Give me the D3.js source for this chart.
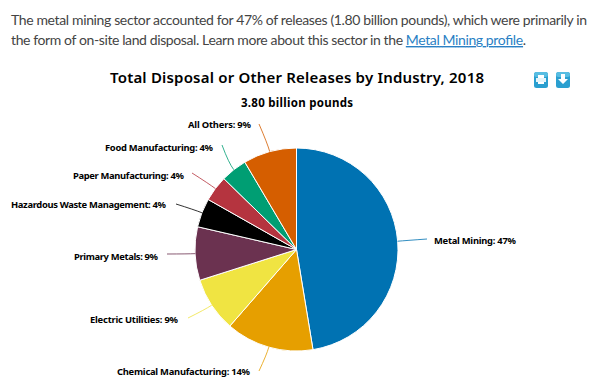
<!DOCTYPE html>
<html><head><meta charset="utf-8">
<script src="https://cdnjs.cloudflare.com/ajax/libs/d3/7.8.5/d3.min.js"></script>
<style>
html,body{margin:0;padding:0;background:#fff;overflow:hidden}
svg{display:block}
</style></head><body>
<svg id="c" width="600" height="380"></svg>
<script>
const categories=["Metal Mining","Chemical Manufacturing","Electric Utilities","Primary Metals","Hazardous Waste Management","Paper Manufacturing","Food Manufacturing","All Others"];
const shares=[47.4,14.0,8.7,8.5,4.6,4.1,4.2,8.5];
const shownPercent=[47,14,9,9,4,4,4,9];
const colors=["#0072b2","#e69f00","#f0e442","#6b3250","#000000","#b5343f","#009e73","#d55e00"];
const paragraph=["The metal mining sector accounted for 47% of releases (1.80 billion pounds), which were primarily in","the form of on-site land disposal. Learn more about this sector in the "];
const linkText="Metal Mining profile";
const titleText="Total Disposal or Other Releases by Industry, 2018";
const subtitleText="3.80 billion pounds";

const svg=d3.select("#c");
const cx=296.5,cy=249.5,R=101.5;
const bodyFont="Lato,sans-serif", chartFont="'Noto Sans',sans-serif";

const p=svg.append("g").attr("font-family",bodyFont).attr("font-size",14).attr("fill","#444");
p.append("text").attr("x",11).attr("y",25).attr("textLength",576).attr("lengthAdjust","spacing").text(paragraph[0]);
const l2=p.append("text").attr("x",11).attr("y",45).attr("textLength",515).attr("lengthAdjust","spacing").attr("xml:space","preserve").style("white-space","pre");
l2.append("tspan").text(paragraph[1]);
l2.append("tspan").attr("fill","#2a7fc4").attr("text-decoration","underline").text(linkText);
l2.append("tspan").text(".");

svg.append("text").attr("x",110).attr("y",83).attr("textLength",374).attr("lengthAdjust","spacing").attr("font-family",chartFont).attr("font-size",15).attr("font-weight",600).attr("fill","#000").text(titleText);
svg.append("text").attr("x",241).attr("y",107).attr("textLength",112).attr("lengthAdjust","spacing").attr("font-family",chartFont).attr("font-size",11.5).attr("font-weight",700).attr("fill","#000").text(subtitleText);

[534,556].forEach((x,i)=>{
  svg.append("rect").attr("x",x).attr("y",72).attr("width",14).attr("height",16).attr("rx",2.5).attr("fill","#2a9fd0");
  svg.append("rect").attr("x",x).attr("y",72).attr("width",14).attr("height",5).attr("rx",2.5).attr("fill","#58bde2");
  if(i==0){
    svg.append("rect").attr("x",x+4).attr("y",75).attr("width",6).attr("height",9).attr("fill","#fff");
    svg.append("rect").attr("x",x+2).attr("y",78).attr("width",10).attr("height",4).attr("fill","#e4f4fa");
  } else {
    svg.append("path").attr("d",`M${x+5} 74h4v5h3l-5 5l-5-5h3z`).attr("fill","#fff");
  }
});

const pie=d3.pie().sort(null).value(d=>d)(shares);
const arc=d3.arc().innerRadius(0).outerRadius(R);
const g=svg.append("g").attr("transform",`translate(${cx},${cy})`);
g.selectAll("path").data(pie).join("path").attr("d",arc).attr("fill",(d,i)=>colors[i]).attr("stroke","#fff").attr("stroke-width",1).attr("stroke-linejoin","round");

const labelX=[434,250,178,158,166,184,213,251];
const labelY=[244,375,323,260,208,179,151,128];
const labelW=[82,133,88,84,155,111,108,63];
const anchors=["start","end","end","end","end","end","end","end"];
const lineEndX=[427,259,188,167,176,192,222,259];
const lineEndY=[239,371,318,254,204,173,145,124];
const linePts=pie.map((d,i)=>{
  const a=(d.startAngle+d.endAngle)/2;
  const sx=Math.sin(a)*R, sy=-Math.cos(a)*R;
  const mx=Math.sin(a)*(R+8), my=-Math.cos(a)*(R+8);
  return `M${cx+sx},${cy+sy}Q${cx+mx},${cy+my} ${lineEndX[i]},${lineEndY[i]}`;
});
svg.append("g").selectAll("path").data(linePts).join("path").attr("d",d=>d).attr("fill","none").attr("stroke",(d,i)=>colors[i]).attr("stroke-width",1).attr("stroke-opacity",0.8);
svg.append("g").selectAll("text").data(categories).join("text")
 .attr("x",(d,i)=>labelX[i]).attr("y",(d,i)=>labelY[i]).attr("text-anchor",(d,i)=>anchors[i])
 .attr("textLength",(d,i)=>labelW[i]).attr("lengthAdjust","spacing")
 .attr("font-family",chartFont).attr("font-size",9.4).attr("font-weight",700).attr("fill","#000")
 .text((d,i)=>`${d}: ${shownPercent[i]}%`);
</script>
</body></html>
